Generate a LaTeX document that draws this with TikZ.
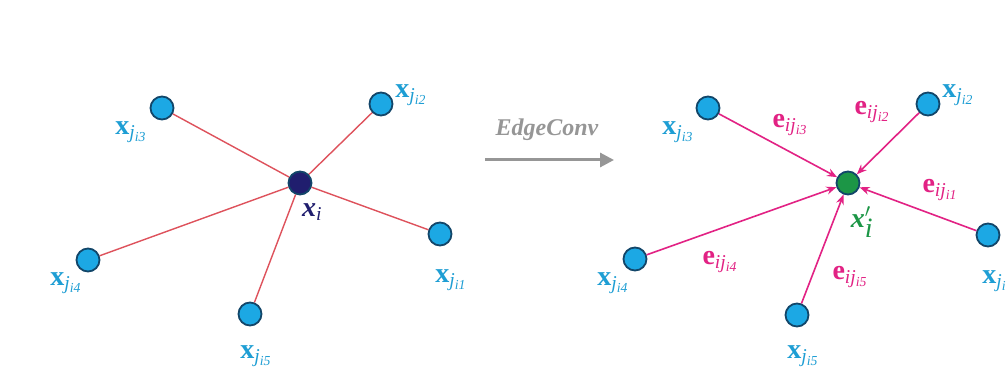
\RequirePackage{fix-cm}
\documentclass[tikz,border=0pt]{standalone}
\usepackage{fontspec}
\setmainfont{Liberation Serif}
\usetikzlibrary{arrows.meta}
\definecolor{nodecyan}{RGB}{28,168,228}
\definecolor{nodeedge}{RGB}{18,70,105}
\definecolor{labcyan}{RGB}{30,158,212}
\definecolor{navy}{RGB}{32,30,110}
\definecolor{grn}{RGB}{28,150,70}
\definecolor{redline}{RGB}{222,82,92}
\definecolor{mag}{RGB}{226,34,132}
\definecolor{gry}{RGB}{150,150,150}
\newcommand{\xj}[1]{\textbf{x}\textsubscript{\textit{j}\textsubscript{\textit{i#1}}}}
\newcommand{\eij}[1]{\textbf{e}\textsubscript{\textit{ij}\textsubscript{\textit{i#1}}}}
\begin{document}
\begin{tikzpicture}[x=1pt,y=-1pt,
  nb/.style={circle,draw=nodeedge,fill=nodecyan,line width=1.8pt,minimum size=23pt,inner sep=0pt},
  nc/.style={circle,draw=nodeedge,line width=1.8pt,minimum size=23pt,inner sep=0pt},
  lab/.style={text=labcyan,font=\fontsize{28}{30}\selectfont,inner sep=0pt},
  elab/.style={text=mag,font=\fontsize{28}{30}\selectfont,inner sep=0pt},
  redge/.style={draw=redline,line width=1.4pt},
  marr/.style={draw=mag,line width=1.6pt,-{Stealth[length=10pt,width=8pt]}}]
\clip (0,0) rectangle (1006,379);
\fill[white] (0,0) rectangle (1006,379);
% left graph
\node[nc,fill=navy] (c) at (300,183) {};
\node[nb] (a1) at (440,234) {};
\node[nb] (a2) at (381,104) {};
\node[nb] (a3) at (162,108) {};
\node[nb] (a4) at (88,260) {};
\node[nb] (a5) at (250,314) {};
\foreach \k in {1,...,5} {\draw[redge] (c) -- (a\k);}
\node[lab] (la1) at (451,280) {\xj{1}};
\node[lab] (la2) at (411,95) {\xj{2}};
\node[lab] (la3) at (131,132) {\xj{3}};
\node[lab] (la4) at (66,283) {\xj{4}};
\node[lab] (la5) at (256,356) {\xj{5}};
\node[text=navy,font=\fontsize{28}{30}\selectfont,inner sep=0pt] (lc) at (312,212) {\textbf{\textit{x}}\textsubscript{\textit{i}}};
% arrow
\node[text=gry,font=\fontsize{24}{26}\selectfont\bfseries\itshape,inner sep=0pt] (ec) at (547,130) {EdgeConv};
\coordinate (as) at (485,160);
\coordinate (ae) at (614,160);
\draw[gry,line width=3pt,-{Triangle[length=14pt,width=14pt]}] (as) -- (ae);
% right graph
\node[nc,fill=grn] (d) at (848,183) {};
\node[nb] (b1) at (988,235) {};
\node[nb] (b2) at (928,104) {};
\node[nb] (b3) at (708,108) {};
\node[nb] (b4) at (635,259) {};
\node[nb] (b5) at (797,315) {};
\foreach \k in {1,...,5} {\draw[marr] (b\k) -- (d);}
\node[lab] (lb1) at (998,281) {\xj{1}};
\node[lab] (lb2) at (958,95) {\xj{2}};
\node[lab] (lb3) at (678,132) {\xj{3}};
\node[lab] (lb4) at (613,283) {\xj{4}};
\node[lab] (lb5) at (803,356) {\xj{5}};
\node[text=grn,font=\fontsize{28}{30}\selectfont,inner sep=0pt] (ld) at (862,222) {\textbf{\textit{x}}$'_{\textit{i}}$};
\node[elab] (e1) at (940,190) {\eij{1}};
\node[elab] (e2) at (872,112) {\eij{2}};
\node[elab] (e3) at (790,125) {\eij{3}};
\node[elab] (e4) at (720,262) {\eij{4}};
\node[elab] (e5) at (850,277) {\eij{5}};
\end{tikzpicture}
\end{document}
